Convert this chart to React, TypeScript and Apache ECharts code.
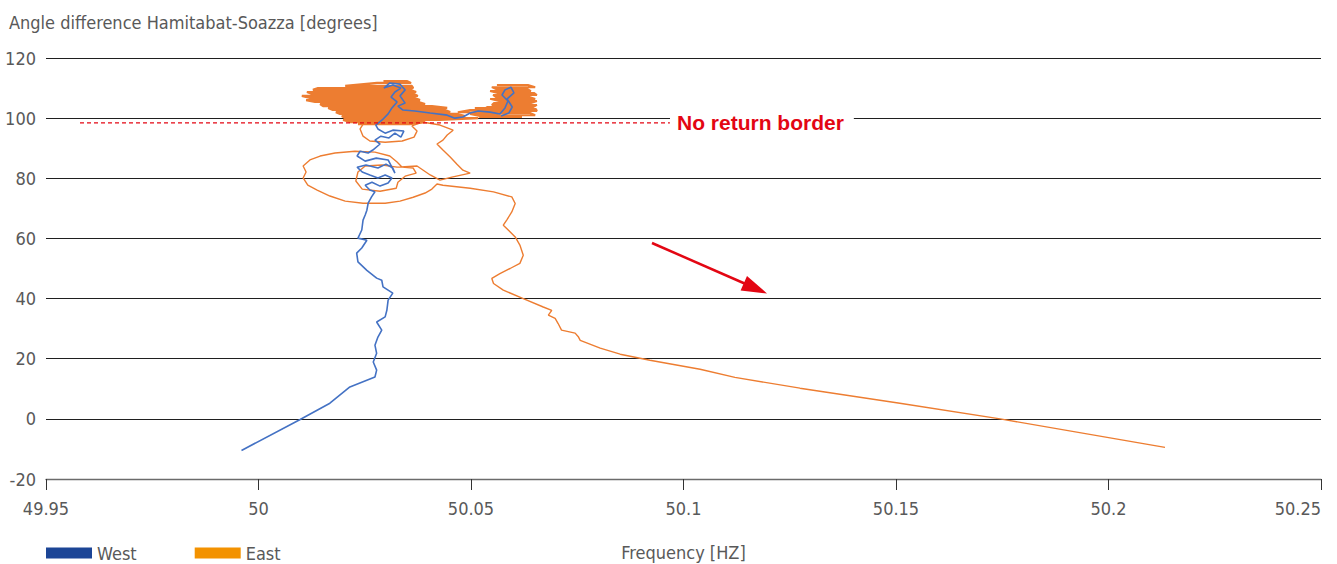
import React, { useEffect, useRef } from "react";
import * as echarts from "echarts";

const FONT = "'Liberation Sans Narrow', 'DejaVu Sans Condensed', Roboto, sans-serif";
const TEXT_COLOR = "#595959";

// Axes
const xMin = 49.95;
const xMax = 50.25;
const xStep = 0.05;
const yMin = -20;
const yMax = 120;
const yStep = 20;

const yTitle = "Angle difference Hamitabat-Soazza [degrees]";
const xTitle = "Frequency [HZ]";
const legendNames = ["West", "East"];

// No-return border (dashed red line)
const borderAngle = 98.4;
const borderFrom = 49.958;
const borderTo = 50.0968;
const borderLabel = "No return border";

// West: [frequency, angle]
const westLine: [number, number][] = [
  [49.996, -10.5], [50.0098, -0.2], [50.0168, 5.2], [50.0215, 10.6], [50.0274, 13.9],
  [50.0278, 16.2], [50.027, 18.9], [50.0278, 21.8], [50.0274, 24.5], [50.0281, 27.2],
  [50.029, 29.5], [50.0278, 32.2], [50.0298, 33.9], [50.0302, 36.1], [50.0305, 39.5],
  [50.0316, 41.8], [50.0293, 43.9], [50.029, 46.1], [50.0278, 46.8], [50.0255, 49.4],
  [50.0234, 52.2], [50.0231, 55.1], [50.0243, 56.8], [50.0255, 59.4], [50.0234, 60.1],
  [50.0243, 62.8], [50.0246, 66.1], [50.0251, 67.8], [50.0255, 69.4], [50.0258, 71.7],
  [50.0266, 73.8], [50.0274, 75.5], [50.0262, 76.1], [50.0251, 77.7], [50.0267, 78.7],
  [50.0286, 77.4], [50.0305, 78.4], [50.0314, 80.1], [50.0298, 81.1], [50.0281, 80.1],
  [50.0262, 81.1], [50.0244, 82.1], [50.0232, 83.7], [50.0253, 84.4], [50.0281, 83.4],
  [50.03, 84.7], [50.0316, 83.4], [50.0321, 81.7], [50.0305, 86.1], [50.0277, 86.7],
  [50.0251, 85.7], [50.0232, 87.4], [50.0239, 89.0], [50.0258, 88.4], [50.0269, 89.4],
  [50.0286, 91.4], [50.0274, 92.7], [50.0288, 94.0], [50.0307, 93.4], [50.0321, 95.0],
  [50.0335, 93.7], [50.0342, 95.7], [50.0316, 96.0], [50.0298, 95.0], [50.0281, 96.4],
  [50.0276, 97.7], [50.0291, 99.4], [50.0305, 101.4], [50.0314, 103.4], [50.0326, 105.4],
  [50.0312, 107.0], [50.0321, 108.7], [50.0335, 110.0], [50.0316, 111.0], [50.0295, 110.0],
  [50.0309, 111.7], [50.0333, 111.3], [50.0345, 109.4], [50.0333, 107.4], [50.0345, 105.0],
  [50.0328, 104.0], [50.034, 102.7], [50.0368, 102.4], [50.0404, 101.7], [50.0444, 101.0],
  [50.0462, 100.0], [50.0481, 100.4], [50.0498, 101.7], [50.0517, 102.4], [50.0545, 102.0],
  [50.0568, 101.4], [50.058, 103.4], [50.0587, 105.7], [50.0573, 107.7], [50.058, 109.4],
  [50.0594, 110.3], [50.0601, 108.4], [50.0585, 106.4], [50.0597, 103.7], [50.0589, 101.7],
  [50.0571, 100.7],
];

// East: [frequency, angle]
const eastLine: [number, number][] = [
  [50.2133, -9.5], [50.1745, 0.0], [50.1509, 5.2], [50.1274, 10.2], [50.1121, 13.8],
  [50.1039, 16.5], [50.0921, 19.5], [50.0851, 21.5], [50.0804, 23.5], [50.0757, 26.1],
  [50.0753, 27.2], [50.0745, 28.5], [50.0713, 29.5], [50.0705, 31.7], [50.0698, 33.4],
  [50.0682, 34.5], [50.069, 36.1], [50.067, 37.2], [50.0623, 40.0], [50.0576, 42.8],
  [50.0553, 45.0], [50.0549, 46.7], [50.0568, 48.3], [50.0592, 50.0], [50.0615, 51.7],
  [50.0623, 54.4], [50.0615, 57.8], [50.0604, 60.5], [50.0584, 63.3], [50.0576, 64.4],
  [50.0584, 66.1], [50.0596, 68.8], [50.0604, 71.6], [50.0596, 73.8], [50.0553, 75.5],
  [50.0498, 76.7], [50.0434, 77.7], [50.042, 78.1], [50.0408, 76.4], [50.0392, 75.1],
  [50.0364, 73.7], [50.0333, 72.4], [50.0298, 71.7], [50.0246, 71.7], [50.0204, 72.4],
  [50.0168, 74.1], [50.0138, 76.1], [50.0116, 77.7], [50.0105, 80.1], [50.0112, 82.1],
  [50.0105, 84.1], [50.0121, 86.1], [50.0145, 87.4], [50.018, 88.4], [50.0227, 89.0],
  [50.0274, 88.7], [50.0309, 87.4], [50.0326, 85.4], [50.0338, 83.7], [50.0364, 83.4],
  [50.0371, 81.7], [50.0345, 80.7], [50.0328, 78.7], [50.0324, 76.7], [50.0286, 75.7],
  [50.0244, 76.4], [50.0229, 79.1], [50.0234, 82.1], [50.0251, 84.1], [50.0291, 84.4],
  [50.0326, 83.7], [50.0373, 84.1], [50.0404, 81.1], [50.0427, 79.4], [50.0455, 80.4],
  [50.0498, 81.7], [50.0481, 82.7], [50.0467, 84.7], [50.0451, 87.1], [50.0434, 89.4],
  [50.042, 91.4], [50.0434, 92.7], [50.0444, 94.4], [50.0458, 96.0], [50.0427, 97.7],
  [50.0385, 98.7], [50.0361, 97.4], [50.0373, 95.7], [50.0366, 93.7], [50.0338, 92.4],
  [50.0298, 92.0], [50.0262, 92.4], [50.0246, 94.0], [50.0239, 96.4], [50.0248, 98.4],
];

// East dense cluster rows: [angle, from frequency, to frequency]
const eastClusterMain: [number, number, number][] = [
  [112.3, 50.0294, 50.035], [111.7, 50.0279, 50.0359], [110.7, 50.0204, 50.0361],
  [110.0, 50.014, 50.0364], [109.4, 50.0128, 50.0356], [108.7, 50.0114, 50.0371],
  [108.0, 50.0126, 50.0366], [107.4, 50.0102, 50.0375], [106.7, 50.0121, 50.0368],
  [106.0, 50.0112, 50.038], [105.4, 50.0133, 50.0375], [104.7, 50.0145, 50.0392],
  [104.0, 50.0152, 50.0408], [103.4, 50.0164, 50.0444], [102.7, 50.0175, 50.0439],
  [102.0, 50.0182, 50.0451], [101.4, 50.0192, 50.0469], [100.7, 50.0196, 50.0486],
  [100.0, 50.0204, 50.0517], [99.4, 50.0199, 50.0427], [98.7, 50.0215, 50.0392],
  [98.0, 50.0234, 50.0356],
];

const eastClusterRight: [number, number, number][] = [
  [111.0, 50.0561, 50.0634], [110.3, 50.0549, 50.0651], [109.7, 50.0559, 50.0632],
  [109.0, 50.0545, 50.0641], [108.4, 50.0561, 50.0648], [107.7, 50.0552, 50.0655],
  [107.0, 50.0559, 50.0639], [106.4, 50.0545, 50.0651], [105.7, 50.0566, 50.0655],
  [105.0, 50.0554, 50.0641], [104.4, 50.0549, 50.0655], [103.7, 50.0538, 50.0646],
  [103.0, 50.0531, 50.0653], [102.4, 50.0521, 50.0655], [101.7, 50.0528, 50.0639],
  [101.0, 50.0516, 50.0651], [100.4, 50.0521, 50.062], [100.7, 50.0521, 50.0554],
  [101.4, 50.0498, 50.0561], [102.0, 50.0469, 50.0568], [102.7, 50.0498, 50.058],
  [103.4, 50.0509, 50.0568],
];

const zigzag = (rows: [number, number, number][]) =>
  rows.flatMap((r, i) =>
    i % 2 === 0
      ? [[r[1], r[0]], [r[2], r[0]]]
      : [[r[2], r[0]], [r[1], r[0]]]
  );

const WEST_COLOR = "#4472C4";
const EAST_COLOR = "#ED7D31";
const RED = "#E30613";
const W = 1337;
const H = 564;

export default function App() {
  const ref = useRef<HTMLDivElement>(null);
  useEffect(() => {
    document.body.style.margin = "0";
    document.body.style.overflow = "hidden";
    if (!ref.current) return;
    const chart = echarts.init(ref.current, null, { renderer: "svg", width: W, height: H });
    const lineBase = {
      type: "line",
      symbol: "none",
      showSymbol: false,
      smooth: false,
      silent: true,
    };
    chart.setOption({
      animation: false,
      textStyle: { fontFamily: FONT },
      title: {
        text: yTitle,
        left: 9,
        top: 12,
        padding: 0,
        textStyle: { fontFamily: FONT, fontSize: 18, lineHeight: 20, fontWeight: "normal", color: TEXT_COLOR },
      },
      grid: {
        left: 46,
        right: 16,
        top: 58,
        bottom: 85,
        containLabel: false,
        outerBoundsMode: "none",
      },
      legend: {
        left: 46,
        top: 544,
        padding: 0,
        icon: "rect",
        itemWidth: 46,
        itemHeight: 11,
        itemGap: 58,
        selectedMode: false,
        textStyle: { fontFamily: FONT, fontSize: 18, lineHeight: 18, color: TEXT_COLOR },
        data: [
          { name: legendNames[0], itemStyle: { color: "#1C4596" } },
          { name: legendNames[1], itemStyle: { color: "#F39200" } },
        ],
      },
      xAxis: {
        type: "value",
        min: xMin,
        max: xMax,
        interval: xStep,
        name: xTitle,
        nameLocation: "middle",
        nameGap: 64,
        nameTextStyle: { fontFamily: FONT, fontSize: 18, lineHeight: 18, color: TEXT_COLOR },
        axisLine: { show: true, onZero: false, lineStyle: { color: "#6b6b6b", width: 1.3 } },
        axisTick: { show: true, length: 11, lineStyle: { color: "#333" } },
        splitLine: { show: false },
        axisLabel: {
          margin: 20,
          fontFamily: FONT,
          fontSize: 18,
          color: TEXT_COLOR,
          alignMaxLabel: "right",
          formatter: (v: number) => String(parseFloat(v.toFixed(2))),
        },
      },
      yAxis: {
        type: "value",
        min: yMin,
        max: yMax,
        interval: yStep,
        axisLine: { show: false },
        axisTick: { show: false },
        splitLine: { show: true, lineStyle: { color: "#1f1f1f", width: 1 } },
        axisLabel: { margin: 10, fontFamily: FONT, fontSize: 18, color: TEXT_COLOR },
      },
      series: [
        { ...lineBase, name: "East", data: eastLine, lineStyle: { color: EAST_COLOR, width: 1.4 }, itemStyle: { color: EAST_COLOR }, z: 2 },
        { ...lineBase, name: "East", data: zigzag(eastClusterMain), lineStyle: { color: EAST_COLOR, width: 2.2 }, itemStyle: { color: EAST_COLOR }, z: 2 },
        { ...lineBase, name: "East", data: zigzag(eastClusterRight), lineStyle: { color: EAST_COLOR, width: 2 }, itemStyle: { color: EAST_COLOR }, z: 2 },
        { ...lineBase, name: "West", data: westLine, lineStyle: { color: WEST_COLOR, width: 1.6 }, itemStyle: { color: WEST_COLOR }, z: 3 },
        {
          ...lineBase,
          name: "border",
          data: [[borderFrom, borderAngle], [borderTo, borderAngle]],
          lineStyle: { color: RED, width: 1.2, type: [4, 3] },
          z: 4,
        },
      ],
      graphic: [
        {
          type: "text",
          x: 670,
          y: 122,
          z: 10,
          style: {
            text: borderLabel,
            fill: RED,
            font: `bold 21px 'Liberation Sans', Arial, sans-serif`,
            verticalAlign: "middle",
            align: "left",
            backgroundColor: "#fff",
            padding: [2, 10, 2, 7],
          },
        },
        {
          type: "line",
          z: 10,
          shape: { x1: 652, y1: 243, x2: 748, y2: 285 },
          style: { stroke: RED, lineWidth: 2.5 },
        },
        {
          type: "polygon",
          z: 10,
          shape: { points: [[767, 293.5], [747, 275.9], [740.6, 290.5]] },
          style: { fill: RED },
        },
      ],
    });
    return () => chart.dispose();
  }, []);
  return <div ref={ref} style={{ position: "absolute", left: 0, top: 0, width: W, height: H }} />;
}
